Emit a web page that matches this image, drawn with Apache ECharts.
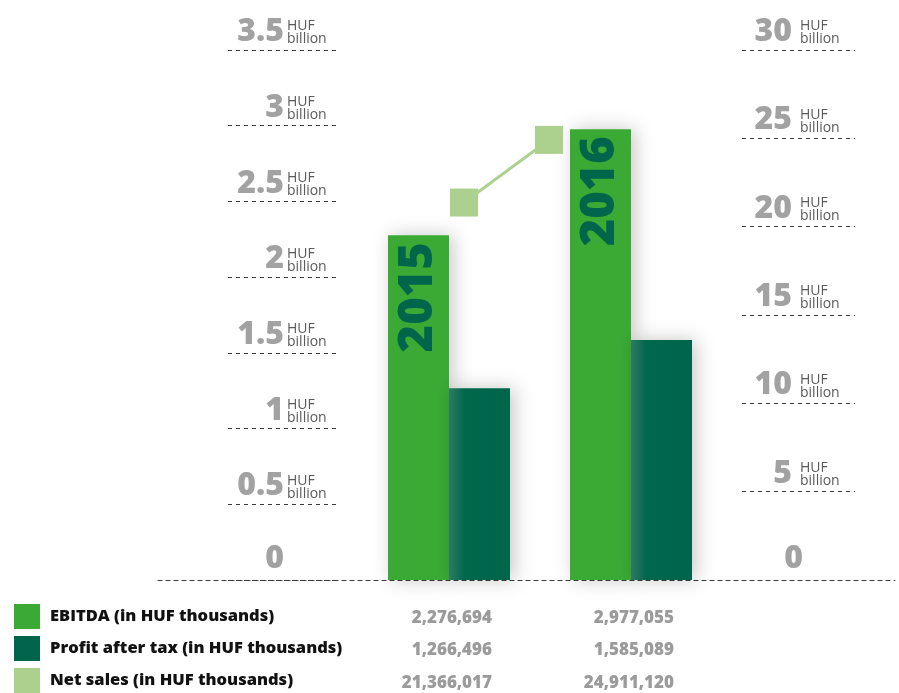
<!DOCTYPE html>
<html>
<head>
<meta charset="utf-8">
<script src="https://cdn.jsdelivr.net/npm/echarts@6/dist/echarts.min.js"></script>
<style>
  html, body { margin: 0; padding: 0; background: #fff; }
  #main { width: 899px; height: 693px; }
</style>
</head>
<body>
<div id="main"></div>
<script>
// data (HUF thousands)
var years = ['2015', '2016'];
var ebitda = [2276694, 2977055];
var profit = [1266496, 1585089];
var netSales = [21366017, 24911120];
var seriesNames = ['EBITDA (in HUF thousands)', 'Profit after tax (in HUF thousands)', 'Net sales (in HUF thousands)'];

var cEbitda = '#3aaa35';
var cProfit = '#00654a';
var cSales = '#acd18f';

// thousands -> billions
function toBn(v) { return v / 1e6; }

var chart = echarts.init(document.getElementById('main'));

var dash = { type: [4, 4], color: '#3a3a3a', width: 1 };
var numFont = { fontFamily: 'Open Sans', fontWeight: 800, fontSize: 32, color: '#a2a2a2' };
var unitFont = { fontFamily: 'Open Sans', fontSize: 14, lineHeight: 13, color: '#5a5a5a' };

function numAxis(grid, max, interval, margin, zeroPad) {
  return {
    gridIndex: grid, type: 'value', min: 0, max: max, interval: interval, position: 'right',
    axisLine: { show: false }, axisTick: { show: false },
    splitLine: { show: true, lineStyle: dash },
    axisLabel: {
      inside: true, margin: margin, align: 'right', verticalAlign: 'bottom',
      formatter: function (v) { return v === 0 ? '{z|0}' : '{n|' + v + '}'; },
      rich: {
        n: Object.assign({ padding: [0, zeroPad, 2, 0] }, numFont),
        z: Object.assign({ padding: [0, 0, 5, 0] }, numFont)
      }
    }
  };
}
function unitAxis(grid, max, interval, margin) {
  return {
    gridIndex: grid, type: 'value', min: 0, max: max, interval: interval, position: 'right',
    axisLine: { show: false }, axisTick: { show: false }, splitLine: { show: false },
    axisLabel: Object.assign({
      inside: true, margin: margin, align: 'left', verticalAlign: 'bottom', padding: [0, 0, 4, 0],
      formatter: function (v) { return v === 0 ? '' : 'HUF\nbillion'; }
    }, unitFont)
  };
}

// table values under the chart
var tableRows = [ebitda, profit, netSales];
var rowY = [617, 649, 682];
var colX = [492, 674];
var tableText = [];
tableRows.forEach(function (row, r) {
  row.forEach(function (v, c) {
    tableText.push({
      type: 'text', right: 899 - colX[c], top: rowY[r] - 7,
      style: { text: v.toLocaleString('en-US'), font: '800 17px "Open Sans"', fill: '#9b9b9b' }
    });
  });
});

chart.setOption({
  animation: false,
  grid: [
    { left: 358, width: 364, top: 50, bottom: 113 },   // bars
    { left: 228, right: 559, top: 50, bottom: 113 },   // left scale
    { left: 742, right: 44, top: 50, bottom: 113 },    // right scale
    { left: 464, right: 350, top: 50, bottom: 113 },   // net sales line
    { left: 158, right: 4, top: 50, bottom: 113 }      // baseline
  ],
  xAxis: [
    { gridIndex: 0, type: 'category', data: years, show: false },
    { gridIndex: 1, type: 'value', show: false },
    { gridIndex: 2, type: 'value', show: false },
    { gridIndex: 3, type: 'category', data: years, boundaryGap: false, show: false },
    { gridIndex: 4, type: 'category', data: years, axisLine: { lineStyle: dash }, axisTick: { show: false }, axisLabel: { show: false } }
  ],
  yAxis: [
    { gridIndex: 0, type: 'value', min: 0, max: 3.5, show: false },
    numAxis(1, 3.5, 0.5, 56, 0),
    unitAxis(1, 3.5, 0.5, 53),
    numAxis(2, 30, 5, 52, 11),
    unitAxis(2, 30, 5, 55),
    { gridIndex: 3, type: 'value', min: 0, max: 30, show: false },
    { gridIndex: 4, type: 'value', show: false }
  ],
  legend: {
    orient: 'vertical', left: 14, top: 604, padding: 0, height: 100,
    itemWidth: 26, itemHeight: 25, itemGap: 7,
    icon: 'rect', selectedMode: false,
    textStyle: { fontFamily: 'Open Sans', fontWeight: 800, fontSize: 16.5, color: '#111', padding: [3, 0, 0, 5] },
    data: [
      { name: seriesNames[0], itemStyle: { color: cEbitda, shadowBlur: 0 } },
      { name: seriesNames[1], itemStyle: { color: cProfit, shadowBlur: 0 } },
      { name: seriesNames[2], itemStyle: { color: cSales, shadowBlur: 0 } }
    ]
  },
  graphic: tableText,
  series: [
    {
      name: seriesNames[0], type: 'bar', xAxisIndex: 0, yAxisIndex: 0,
      barWidth: 61, barGap: '0%',
      data: ebitda.map(toBn),
      itemStyle: { color: cEbitda, shadowBlur: 18, shadowColor: 'rgba(0,0,0,0.22)', shadowOffsetX: 4 },
      label: {
        show: true, position: 'insideTop', rotate: 90, align: 'right', verticalAlign: 'middle', distance: 7,
        formatter: function (p) { return years[p.dataIndex]; },
        fontFamily: 'Open Sans', fontWeight: 800, fontSize: 47, color: '#00654a'
      },
      z: 2
    },
    {
      name: seriesNames[1], type: 'bar', xAxisIndex: 0, yAxisIndex: 0,
      barWidth: 61, barGap: '0%',
      data: profit.map(toBn),
      itemStyle: {
        color: new echarts.graphic.LinearGradient(0, 0, 1, 0, [
          { offset: 0, color: '#2f7a64' },
          { offset: 0.25, color: '#00684c' },
          { offset: 1, color: cProfit }
        ]),
        shadowBlur: 18, shadowColor: 'rgba(0,0,0,0.22)', shadowOffsetX: 4
      },
      z: 2
    },
    {
      name: seriesNames[2], type: 'line', xAxisIndex: 3, yAxisIndex: 5,
      data: netSales.map(toBn),
      symbol: 'rect', symbolSize: 28,
      itemStyle: { color: cSales },
      lineStyle: { color: cSales, width: 3 },
      z: 3
    }
  ]
});
</script>
</body>
</html>
